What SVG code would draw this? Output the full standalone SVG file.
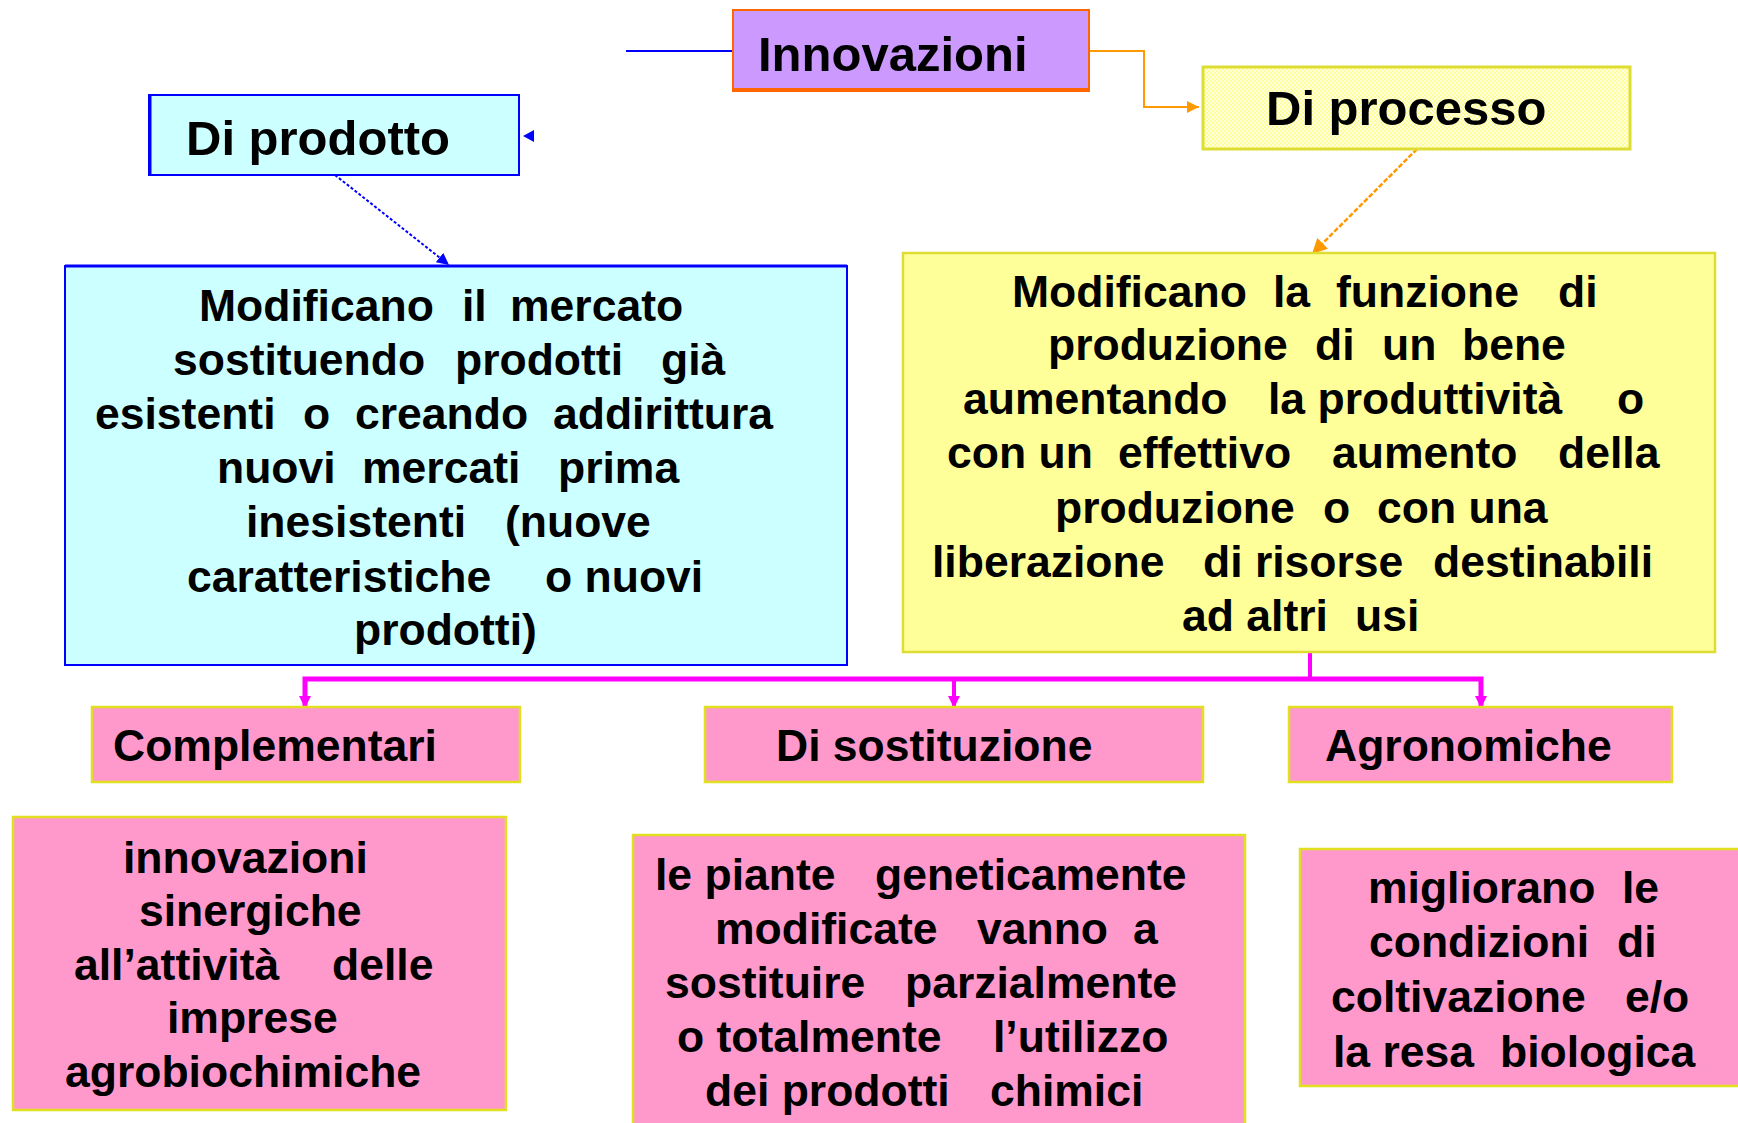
<svg xmlns="http://www.w3.org/2000/svg" width="1738" height="1123" viewBox="0 0 1738 1123">
<style>
.t{font-family:"Liberation Sans",Arial,sans-serif;font-weight:bold;font-size:44.5px;fill:#000}
.h{font-size:49px}
.pink{fill:#FF99CC;stroke:#E0E020;stroke-width:2.5}
.mag{stroke:#FF00FF;fill:none}
</style>
<defs>
<pattern id="chk" width="4" height="4" patternUnits="userSpaceOnUse">
<rect width="4" height="4" fill="#FFFF99"/>
<rect width="2" height="2" fill="#FFFFE0"/>
<rect x="2" y="2" width="2" height="2" fill="#FFFFE0"/>
</pattern>
<marker id="amag" viewBox="0 0 10 10" refX="10" refY="5" markerWidth="3" markerHeight="3" orient="auto" markerUnits="strokeWidth">
<path d="M0,0 L10,5 L0,10 z" fill="#FF00FF"/>
</marker>
<marker id="aor" viewBox="0 0 10 10" refX="10" refY="5" markerWidth="6" markerHeight="6" orient="auto" markerUnits="strokeWidth">
<path d="M0,0 L10,5 L0,10 z" fill="#FF9900"/>
</marker>
<marker id="ablu" viewBox="0 0 10 10" refX="10" refY="5" markerWidth="6" markerHeight="6" orient="auto" markerUnits="strokeWidth">
<path d="M0,0 L10,5 L0,10 z" fill="#0000FF"/>
</marker>
</defs>
<rect width="1738" height="1123" fill="#FFFFFF"/>

<g id="connectors">
<line x1="626" y1="51" x2="733" y2="51" stroke="#0000FF" stroke-width="2"/>
<polyline points="1089,51 1144,51 1144,107 1199,107" fill="none" stroke="#FF9900" stroke-width="2" marker-end="url(#aor)"/>
<path d="M523,136 L534,130 L534,142 z" fill="#0000FF"/>
<line x1="335" y1="175" x2="449" y2="265" stroke="#0000FF" stroke-width="2" stroke-dasharray="3,2" marker-end="url(#ablu)"/>
<line x1="1417" y1="149" x2="1312" y2="254" stroke="#FF9900" stroke-width="2.5" stroke-dasharray="5,2" marker-end="url(#aor)"/>
<line class="mag" x1="1310" y1="652" x2="1310" y2="679" stroke-width="4"/>
<polyline class="mag" points="305,707 305,679 1481,679 1481,707" stroke-width="5"/>
<line class="mag" x1="305" y1="690" x2="305" y2="708" stroke-width="4" marker-end="url(#amag)"/>
<line class="mag" x1="954" y1="679" x2="954" y2="708" stroke-width="4" marker-end="url(#amag)"/>
<line class="mag" x1="1481" y1="690" x2="1481" y2="708" stroke-width="4" marker-end="url(#amag)"/>
</g>

<g id="innovazioni">
<rect x="733" y="10" width="356" height="80" fill="#CC99FF" stroke="#FF6600" stroke-width="2"/>
<line x1="732" y1="90" x2="1090" y2="90" stroke="#FF6600" stroke-width="4"/>
<text class="t h" x="758" y="71">Innovazioni</text>
</g>

<g id="di-prodotto">
<rect x="149" y="95" width="370" height="80" fill="#CCFFFF" stroke="#0000FF" stroke-width="2"/>
<line x1="150" y1="95" x2="150" y2="175" stroke="#0000FF" stroke-width="3"/>
<text class="t h" x="186" y="155">Di prodotto</text>
</g>

<g id="di-processo">
<rect x="1203" y="67" width="427" height="82" fill="url(#chk)" stroke="#DDDD33" stroke-width="3"/>
<text class="t h" x="1266" y="125">Di processo</text>
</g>

<g id="prodotto-desc">
<rect x="65" y="266" width="782" height="399" fill="#CCFFFF" stroke="#0000FF" stroke-width="2"/>
<line x1="65" y1="266" x2="847" y2="266" stroke="#0000FF" stroke-width="3"/>
<text class="t" y="321"><tspan x="199">Modificano</tspan><tspan x="462">il</tspan><tspan x="510">mercato</tspan></text>
<text class="t" y="375"><tspan x="173">sostituendo</tspan><tspan x="455">prodotti</tspan><tspan x="661">già</tspan></text>
<text class="t" y="429"><tspan x="95">esistenti</tspan><tspan x="303">o</tspan><tspan x="355">creando</tspan><tspan x="553">addirittura</tspan></text>
<text class="t" y="483"><tspan x="217">nuovi</tspan><tspan x="362">mercati</tspan><tspan x="558">prima</tspan></text>
<text class="t" y="537"><tspan x="246">inesistenti</tspan><tspan x="505">(nuove</tspan></text>
<text class="t" y="592"><tspan x="187">caratteristiche</tspan><tspan x="545">o nuovi</tspan></text>
<text class="t" y="645"><tspan x="354">prodotti)</tspan></text>
</g>

<g id="processo-desc">
<rect x="903" y="253" width="812" height="399" fill="#FFFF99" stroke="#DDDD33" stroke-width="2.5"/>
<text class="t" y="307"><tspan x="1012">Modificano</tspan><tspan x="1273">la</tspan><tspan x="1336">funzione</tspan><tspan x="1558">di</tspan></text>
<text class="t" y="360"><tspan x="1048">produzione</tspan><tspan x="1315">di</tspan><tspan x="1382">un</tspan><tspan x="1462">bene</tspan></text>
<text class="t" y="414"><tspan x="963">aumentando</tspan><tspan x="1268">la produttività</tspan><tspan x="1617">o</tspan></text>
<text class="t" y="468"><tspan x="947">con un</tspan><tspan x="1118">effettivo</tspan><tspan x="1332">aumento</tspan><tspan x="1558">della</tspan></text>
<text class="t" y="523"><tspan x="1055">produzione</tspan><tspan x="1323">o</tspan><tspan x="1377">con una</tspan></text>
<text class="t" y="577"><tspan x="932">liberazione</tspan><tspan x="1203">di risorse</tspan><tspan x="1433">destinabili</tspan></text>
<text class="t" y="631"><tspan x="1182">ad altri</tspan><tspan x="1355">usi</tspan></text>
</g>

<g id="complementari">
<rect class="pink" x="92" y="707" width="428" height="75"/>
<text class="t" x="113" y="761">Complementari</text>
</g>

<g id="di-sostituzione">
<rect class="pink" x="705" y="707" width="498" height="75"/>
<text class="t" x="776" y="761">Di sostituzione</text>
</g>

<g id="agronomiche">
<rect class="pink" x="1289" y="707" width="383" height="75"/>
<text class="t" x="1325" y="761">Agronomiche</text>
</g>

<g id="complementari-desc">
<rect class="pink" x="13" y="817" width="493" height="293"/>
<text class="t" x="123" y="873">innovazioni</text>
<text class="t" x="139" y="926">sinergiche</text>
<text class="t" y="980"><tspan x="74">all’attività</tspan><tspan x="332">delle</tspan></text>
<text class="t" x="167" y="1033">imprese</text>
<text class="t" x="65" y="1087">agrobiochimiche</text>
</g>

<g id="sostituzione-desc">
<rect class="pink" x="633" y="835" width="612" height="300"/>
<text class="t" y="890"><tspan x="655">le piante</tspan><tspan x="875">geneticamente</tspan></text>
<text class="t" y="944"><tspan x="715">modificate</tspan><tspan x="977">vanno</tspan><tspan x="1133">a</tspan></text>
<text class="t" y="998"><tspan x="665">sostituire</tspan><tspan x="905">parzialmente</tspan></text>
<text class="t" y="1052"><tspan x="677">o totalmente</tspan><tspan x="993">l’utilizzo</tspan></text>
<text class="t" y="1106"><tspan x="705">dei prodotti</tspan><tspan x="990">chimici</tspan></text>
</g>

<g id="agronomiche-desc">
<rect class="pink" x="1300" y="849" width="445" height="237"/>
<text class="t" y="903"><tspan x="1368">migliorano</tspan><tspan x="1622">le</tspan></text>
<text class="t" y="957"><tspan x="1369">condizioni</tspan><tspan x="1617">di</tspan></text>
<text class="t" y="1012"><tspan x="1331">coltivazione</tspan><tspan x="1625">e/o</tspan></text>
<text class="t" y="1067"><tspan x="1333">la resa</tspan><tspan x="1500">biologica</tspan></text>
</g>
</svg>
